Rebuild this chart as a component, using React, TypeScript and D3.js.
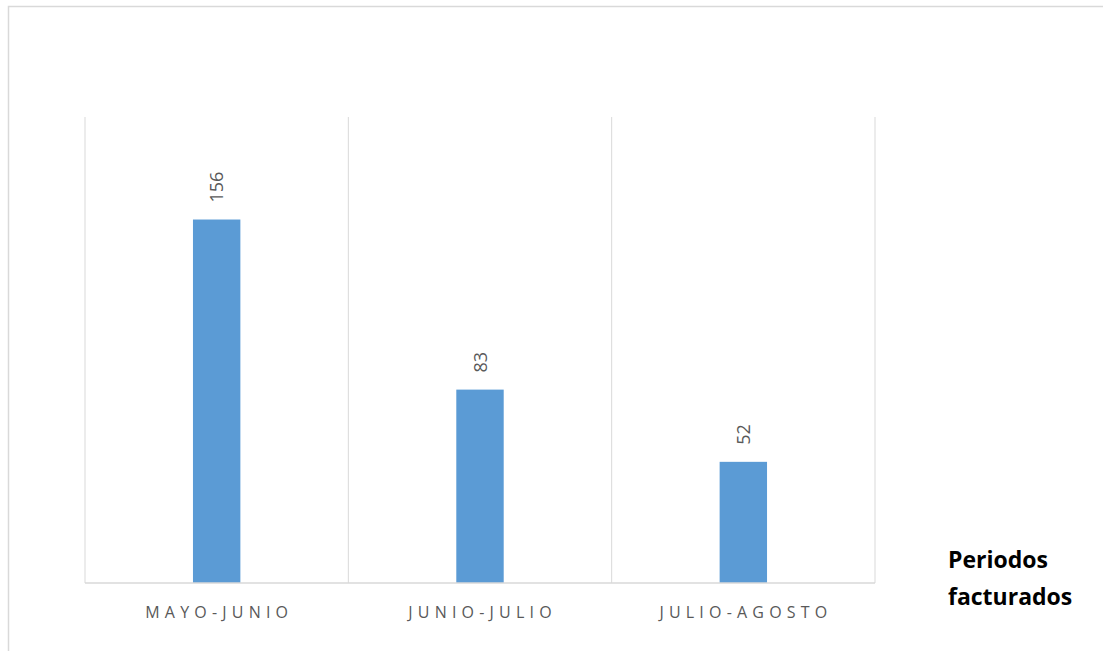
import * as d3 from 'd3';

const categories = ['MAYO-JUNIO', 'JUNIO-JULIO', 'JULIO-AGOSTO'];
const values = [156, 83, 52];
const yMax = 200;
const axisTitle = ['Periodos', 'facturados'];

const W = 1103;
const H = 651;
const margin = { top: 117, right: 228, bottom: 68, left: 85 };

export default function App() {
  const x = d3
    .scaleBand<string>()
    .domain(categories)
    .range([margin.left, W - margin.right])
    .paddingInner(0)
    .paddingOuter(0);

  const y = d3
    .scaleLinear()
    .domain([0, yMax])
    .range([H - margin.bottom, margin.top]);

  const barW = x.bandwidth() * 0.18;
  const base = y(0);
  const grid = '#d9d9d9';
  const spacing = 5.2;

  // gridlines sit on category boundaries
  const bounds = categories.map((c) => x(c)!).concat([x.range()[1]]);

  return (
    <svg
      width={W}
      height={H}
      style={{ position: 'absolute', top: 0, left: 0, display: 'block', background: '#fff' }}
    >
      <rect x={8.5} y={6.5} width={W} height={H} fill="#fff" stroke={grid} strokeWidth={1.5} />

      {bounds.map((b, i) => (
        <line key={i} x1={b} x2={b} y1={margin.top} y2={base} stroke={grid} strokeWidth={1} />
      ))}

      {values.map((v, i) => {
        const cx = x(categories[i])! + x.bandwidth() / 2;
        return (
          <g key={categories[i]}>
            <rect x={cx - barW / 2} y={y(v)} width={barW} height={base - y(v)} fill="#5b9bd5" />
            <text
              transform={`translate(${cx + 6.5},${y(v) - 17}) rotate(-90)`}
              fontFamily="'Open Sans', 'DejaVu Sans', sans-serif"
              fontSize={18}
              fill="#595959"
            >
              {v}
            </text>
          </g>
        );
      })}

      <line x1={x.range()[0]} x2={x.range()[1]} y1={base} y2={base} stroke={grid} strokeWidth={1.5} />

      {categories.map((c) => (
        <text
          key={c}
          x={x(c)! + x.bandwidth() / 2 + spacing / 2}
          y={618}
          textAnchor="middle"
          fontFamily="'Open Sans', 'DejaVu Sans', sans-serif"
          fontSize={16}
          letterSpacing={spacing}
          fill="#595959"
        >
          {c}
        </text>
      ))}

      {axisTitle.map((t, i) => (
        <text
          key={t}
          x={948}
          y={568 + i * 37}
          fontFamily="'Open Sans', 'Liberation Sans', sans-serif"
          fontWeight="bold"
          fontSize={23}
          fill="#000"
        >
          {t}
        </text>
      ))}
    </svg>
  );
}
